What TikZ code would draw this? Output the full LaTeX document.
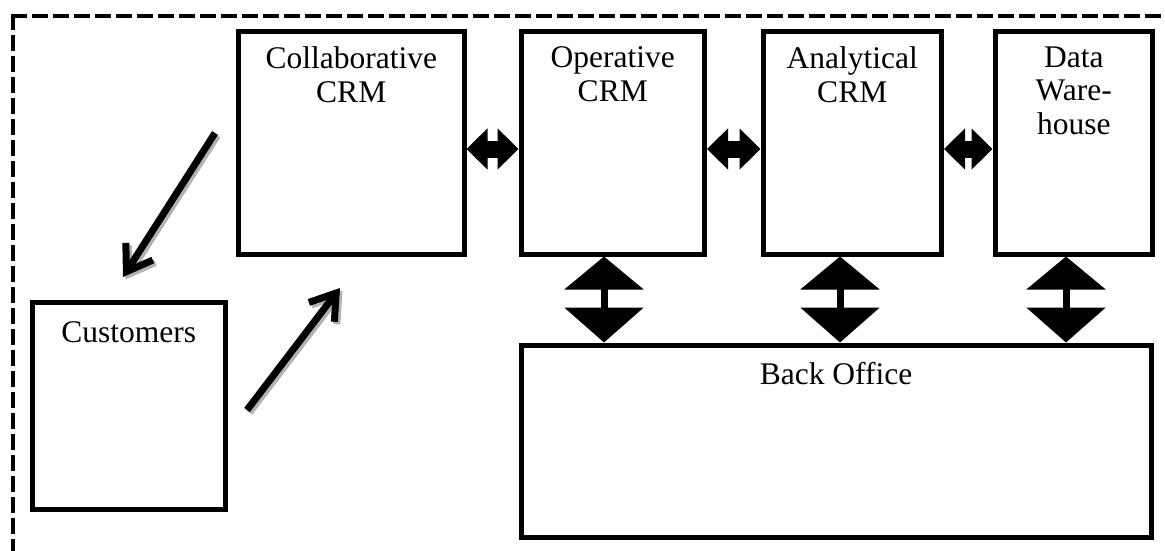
\documentclass[tikz,border=0pt]{standalone}
\usepackage{fontspec}
\setmainfont{Liberation Serif}
\usetikzlibrary{arrows.meta,calc}
\begin{document}
\begin{tikzpicture}[x=1pt,y=-1pt,
  box/.style={draw,line width=5pt,rectangle,inner sep=0pt,anchor=north west},
  lbl/.style={anchor=north,align=center,inner sep=0pt,font=\fontsize{31.5}{33.5}\selectfont},
  harrow/.style={line width=17pt,{Triangle[length=21pt,width=40pt]}-{Triangle[length=21pt,width=40pt]}},
  varrow/.style={line width=7pt,{Triangle[length=33pt,width=78pt]}-{Triangle[length=35pt,width=78pt]}},
  darrow/.style={line width=7pt,-{Straight Barb[length=24pt,width=32pt]}},
  shadowarrow/.style={darrow,draw=gray!60},
  border/.style={line width=4pt,dash pattern=on 16pt off 5pt}
]
\useasboundingbox (0,0) rectangle (1165,551);
% dashed frame
\coordinate (fc) at (12.5,16);
\draw[border] ([yshift=2pt]fc) -- (12.5,570);
\draw[border] ([xshift=-2pt]fc) -- (1180,16);
% boxes
\node[box,minimum width=225.5pt,minimum height=222pt] (collab) at (236,29.5) {};
\node[box,minimum width=183.5pt,minimum height=222pt] (oper) at (518.5,29.5) {};
\node[box,minimum width=178.5pt,minimum height=222pt] (anal) at (760.5,29.5) {};
\node[box,minimum width=157.5pt,minimum height=222pt] (dw) at (992.5,29.5) {};
\node[box,minimum width=192.5pt,minimum height=207pt] (cust) at (30,300) {};
\node[box,minimum width=630pt,minimum height=192.5pt] (back) at (518.5,342.5) {};
% labels
\node[lbl] (tcollab) at ([yshift=-17pt]collab.north) {Collaborative\\CRM};
\node[lbl] (toper) at ([yshift=-17pt]oper.north) {Operative\\CRM};
\node[lbl] (tanal) at ([yshift=-17pt]anal.north) {Analytical\\CRM};
\node[lbl] (tdw) at ([yshift=-17pt]dw.north) {Data\\Ware-\\house};
\node[lbl] (tcust) at ([yshift=-21pt]cust.north) {Customers};
\node[lbl] (tback) at ([yshift=-20pt]back.north) {Back Office};
% horizontal double arrows
\coordinate (hy) at (0,149);
\draw[harrow] (collab.east |- hy) -- (oper.west |- hy);
\draw[harrow] (oper.east |- hy) -- (anal.west |- hy);
\draw[harrow] (anal.east |- hy) -- (dw.west |- hy);
% vertical double arrows
\coordinate (v1) at (604,0);
\coordinate (v2) at (840,0);
\coordinate (v3) at (1066,0);
\draw[varrow] (v1 |- oper.south) -- (v1 |- back.north);
\draw[varrow] (v2 |- anal.south) -- (v2 |- back.north);
\draw[varrow] (v3 |- dw.south) -- (v3 |- back.north);
% diagonal arrows
\coordinate (d1s) at (215,133);
\coordinate (d1e) at (123,277);
\coordinate (d2s) at (247,410);
\coordinate (d2e) at (340,288);
\draw[shadowarrow] ([shift={(2.5,2.5)}]d1s) -- ([shift={(2.5,2.5)}]d1e);
\draw[shadowarrow] ([shift={(2.5,2.5)}]d2s) -- ([shift={(2.5,2.5)}]d2e);
\draw[darrow] (d1s) -- (d1e);
\draw[darrow] (d2s) -- (d2e);
\end{tikzpicture}
\end{document}
